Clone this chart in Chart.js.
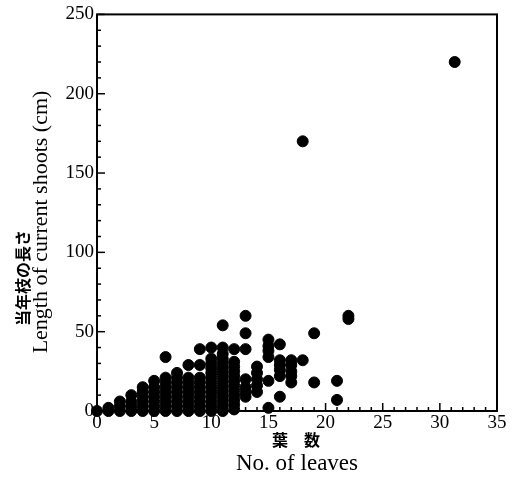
<!DOCTYPE html>
<html>
<head>
<meta charset="utf-8">
<script src="https://cdn.jsdelivr.net/npm/chart.js@4/dist/chart.umd.min.js"></script>
<style>
  body { margin: 0; background: #fff; }
</style>
</head>
<body>
<canvas id="leafChart" width="513" height="486"></canvas>
<script>
// leaves per shoot (x) and shoot length in cm (y)
const leafCount = [
  0,
  1, 1,
  2, 2, 2,
  3, 3, 3, 3,
  4, 4, 4, 4, 4, 4,
  5, 5, 5, 5, 5, 5, 5,
  6, 6, 6, 6, 6, 6, 6, 6, 6,
  7, 7, 7, 7, 7, 7, 7, 7, 7,
  8, 8, 8, 8, 8, 8, 8, 8, 8,
  9, 9, 9, 9, 9, 9, 9, 9, 9, 9,
  10, 10, 10, 10, 10, 10, 10, 10, 10, 10, 10, 10, 10,
  11, 11, 11, 11, 11, 11, 11, 11, 11, 11, 11, 11, 11, 11, 11,
  12, 12, 12, 12, 12, 12, 12, 12, 12, 12, 12, 12,
  13, 13, 13, 13, 13, 13, 13,
  14, 14, 14, 14, 14,
  15, 15, 15, 15, 15, 15,
  16, 16, 16, 16, 16, 16,
  17, 17, 17, 17, 17,
  18, 18,
  19, 19,
  21, 21,
  22, 22,
  31.3
];
const shootLength = [
  0,
  0, 2,
  0, 3, 6,
  0, 3, 6, 10,
  0, 3, 6, 9, 12, 15,
  0, 3, 6, 9, 12, 15, 19,
  0, 3, 6, 9, 12, 15, 18, 21, 34,
  0, 3, 6, 9, 12, 15, 18, 21, 24,
  0, 3, 6, 9, 12, 15, 18, 21, 29,
  0, 3, 6, 9, 12, 15, 18, 21, 29, 39,
  0, 3, 6, 9, 12, 15, 18, 21, 24, 27, 30, 33, 40,
  0, 3, 6, 9, 12, 15, 18, 21, 24, 27, 30, 33, 36, 40, 54,
  1, 4, 7, 10, 13, 16, 19, 22, 25, 28, 31, 39,
  9, 12, 15, 20, 39, 49, 60,
  12, 16, 20, 24, 28,
  2, 19, 34, 38, 41, 45,
  9, 22, 26, 29, 32, 42,
  18, 22, 25, 29, 32,
  32, 170,
  18, 49,
  7, 19,
  58, 60,
  220
];
const xTitleJa = "葉　数";
const xTitleEn = "No. of leaves";
const yTitleJa = "当年枝の長さ";
const yTitleEn = "Length of current shoots (cm)";

const points = leafCount.map((x, i) => ({ x: x, y: shootLength[i] }));
const serif = "'Liberation Serif', 'Noto Sans CJK JP', serif";

function drawText(ctx, text, x, y, font, rotate) {
  ctx.save();
  ctx.fillStyle = "#000";
  ctx.textAlign = "center";
  ctx.textBaseline = "middle";
  ctx.translate(x, y);
  if (rotate) ctx.rotate(-Math.PI / 2);
  ctx.font = font;
  ctx.fillText(text, 0, 0);
  ctx.restore();
}

// frame, inward ticks and the titles the axis title can't place
const framePlugin = {
  id: "frame",
  afterDraw(chart) {
    const ctx = chart.ctx;
    const a = chart.chartArea;
    const xs = chart.scales.x;
    const ys = chart.scales.y;
    ctx.save();
    ctx.strokeStyle = "#000";
    ctx.lineWidth = 1.5;
    for (let i = 0; i <= 35; i++) {
      const px = xs.getPixelForValue(i);
      const len = i % 5 === 0 ? 8 : 4;
      ctx.beginPath();
      ctx.moveTo(px, a.bottom);
      ctx.lineTo(px, a.bottom - len);
      ctx.stroke();
    }
    for (let v = 0; v <= 250; v += 10) {
      const py = ys.getPixelForValue(v);
      const len = v % 50 === 0 ? 8 : 4;
      ctx.beginPath();
      ctx.moveTo(a.left, py);
      ctx.lineTo(a.left + len, py);
      ctx.stroke();
    }
    ctx.lineWidth = 2;
    ctx.strokeRect(a.left, a.top, a.right - a.left, a.bottom - a.top);
    ctx.restore();

    drawText(ctx, xTitleJa, (a.left + a.right) / 2 - 1, 440, "bold 16px 'Noto Sans CJK JP'", false);
    drawText(ctx, yTitleJa, 23, 278, "bold 16px 'Noto Sans CJK JP'", true);
    drawText(ctx, yTitleEn, 41, 222, "22px " + serif, true);
  }
};

new Chart(document.getElementById("leafChart"), {
  type: "scatter",
  data: {
    datasets: [
      {
        data: points,
        backgroundColor: "#000",
        borderColor: "#000",
        pointRadius: 5.5,
        pointHoverRadius: 5.5,
        clip: false,
      },
    ],
  },
  options: {
    responsive: false,
    animation: false,
    layout: { padding: { top: 12, right: 16, left: 0, bottom: 0 } },
    plugins: { legend: { display: false }, tooltip: { enabled: false } },
    scales: {
      x: {
        type: "linear",
        min: 0,
        max: 35,
        ticks: { stepSize: 5, color: "#000", font: { family: serif, size: 19 }, padding: 1 },
        grid: { display: false, drawTicks: false },
        border: { display: false },
        title: {
          display: true,
          text: xTitleEn,
          color: "#000",
          font: { family: serif, size: 23 },
          padding: { top: 0, bottom: 8 },
        },
        afterFit(scale) { scale.height = 75; },
      },
      y: {
        min: 0,
        max: 250,
        ticks: { stepSize: 50, color: "#000", font: { family: serif, size: 19 }, padding: 3 },
        grid: { display: false, drawTicks: false },
        border: { display: false },
        afterFit(scale) { scale.width = 97; },
      },
    },
  },
  plugins: [framePlugin],
});
</script>
</body>
</html>
